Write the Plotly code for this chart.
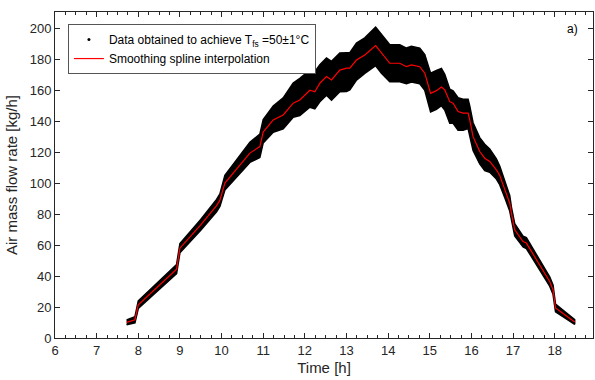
import plotly.graph_objects as go

# Time [h]
time_h = [7.72, 7.92, 8.0, 8.5, 8.92, 9.0, 9.5, 9.88, 9.96, 10.08, 10.4, 10.68, 10.92, 11.0,
          11.24, 11.48, 11.72, 11.88, 12.12, 12.24, 12.36, 12.52, 12.64, 12.84, 13.0, 13.08,
          13.24, 13.44, 13.7, 13.84, 14.04, 14.28, 14.44, 14.56, 14.76, 14.88, 15.02, 15.16,
          15.28, 15.36, 15.48, 15.56, 15.68, 15.8, 15.92, 15.96, 16.04, 16.2, 16.32, 16.44,
          16.6, 16.68, 16.8, 16.92, 16.96, 17.04, 17.24, 17.32, 17.88, 17.96, 18.02, 18.48]

# Smoothing spline interpolation [kg/h]
spline = [10.1, 11.8, 21.5, 34.0, 44.5, 58.0, 73.0, 85.5, 89.0, 100.0, 110.0, 119.4, 123.6, 133.0,
          140.8, 144.0, 151.6, 153.7, 160.0, 159.0, 164.5, 168.8, 166.6, 173.0, 174.2, 174.2,
          179.5, 182.8, 188.8, 184.0, 177.4, 177.4, 175.2, 176.3, 175.2, 171.0, 158.0, 159.7,
          162.0, 160.2, 152.6, 151.6, 146.2, 145.2, 145.2, 140.8, 130.0, 120.4, 116.1, 114.0,
          108.6, 105.0, 95.7, 87.0, 80.6, 69.9, 62.3, 61.3, 36.5, 31.2, 19.4, 10.3]

# Upper / lower envelope of the measured data cloud [kg/h]
data_upper = [11.6, 13.8, 24.0, 37.0, 47.5, 61.0, 76.5, 89.5, 93.0, 105.0, 116.0, 126.4, 131.6, 141.0,
              149.8, 155.0, 164.6, 167.7, 173.0, 172.0, 176.5, 180.8, 178.6, 184.0, 184.2, 184.2,
              190.5, 193.8, 200.8, 196.0, 189.4, 189.4, 187.2, 188.3, 187.2, 183.0, 171.0, 172.7,
              174.0, 170.2, 160.6, 159.6, 155.2, 154.2, 154.2, 149.8, 139.0, 129.4, 125.1, 122.0,
              115.6, 111.0, 101.7, 92.0, 84.6, 73.9, 65.8, 64.8, 39.5, 34.2, 21.9, 11.8]
data_lower = [8.6, 9.8, 19.0, 31.0, 41.5, 55.0, 69.5, 81.5, 85.0, 95.5, 105.0, 113.4, 116.6, 126.0,
              132.8, 135.0, 142.6, 143.7, 149.0, 148.0, 152.5, 156.8, 153.6, 159.0, 159.2, 160.2,
              166.5, 170.8, 175.8, 171.0, 165.4, 165.4, 164.2, 165.3, 164.2, 160.0, 146.0, 147.7,
              150.0, 147.2, 138.6, 138.6, 134.2, 134.2, 135.2, 130.8, 121.0, 112.4, 108.1, 107.0,
              102.6, 99.0, 90.7, 82.0, 76.6, 65.9, 58.8, 57.8, 33.5, 28.2, 16.9, 8.8]

x_ticks = list(range(6, 19))
y_ticks = list(range(0, 201, 20))

FONT = "Liberation Sans, Arial, sans-serif"
AX = "#262626"

fig = go.Figure()

# data cloud as filled envelope
fig.add_trace(go.Scatter(
    x=time_h + time_h[::-1],
    y=data_upper + data_lower[::-1],
    fill="toself", fillcolor="black",
    line=dict(color="black", width=1.5),
    mode="lines", showlegend=False, hoverinfo="skip"))

# legend entry for data points
fig.add_trace(go.Scatter(
    x=[None], y=[None], mode="markers",
    marker=dict(color="black", size=3),
    name="Data obtained to achieve T<sub>fs</sub> =50±1°C"))

fig.add_trace(go.Scatter(
    x=time_h, y=spline, mode="lines",
    line=dict(color="#ff0000", width=1.2),
    name="Smoothing spline interpolation"))

fig.update_layout(
    width=595, height=380,
    margin=dict(l=55, r=2, t=12, b=42),
    paper_bgcolor="white", plot_bgcolor="white",
    font=dict(family=FONT, size=13, color=AX),
    showlegend=True,
    legend=dict(x=0.024, y=0.963, xanchor="left", yanchor="top",
                bgcolor="white", bordercolor="#555555", borderwidth=1,
                font=dict(size=12, color="black"),
                tracegroupgap=0, itemwidth=30),
    annotations=[dict(x=0.962, y=0.948, xref="paper", yref="paper",
                      text="a)", showarrow=False, xanchor="center", yanchor="middle",
                      font=dict(size=12, color="black"))],
)

fig.update_xaxes(
    range=[6, 18.92], tickvals=x_ticks, ticktext=[str(v) for v in x_ticks],
    ticks="inside", ticklen=5, tickwidth=1, tickcolor=AX,
    minor=dict(dtick=0.25, tick0=6, ticks="inside", ticklen=3, tickcolor=AX, showgrid=False),
    showline=True, linecolor=AX, linewidth=1, mirror="ticks",
    showgrid=False, zeroline=False,
    title=dict(text="Time [h]", font=dict(size=15, color=AX), standoff=5),
    tickfont=dict(size=13, color=AX))

fig.update_yaxes(
    range=[0, 210.5], tickvals=y_ticks, ticktext=[str(v) for v in y_ticks],
    ticks="inside", ticklen=5, tickwidth=1, tickcolor=AX,
    showline=True, linecolor=AX, linewidth=1, mirror="ticks",
    showgrid=False, zeroline=False,
    title=dict(text="Air mass flow rate [kg/h]", font=dict(size=15, color=AX), standoff=8),
    tickfont=dict(size=13, color=AX))

fig.write_html("out.html")
